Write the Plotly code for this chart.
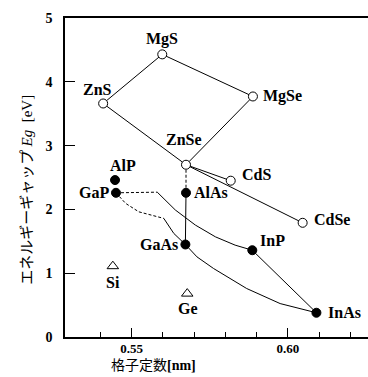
import plotly.graph_objects as go

# --- data ---
open_names = ["MgS", "ZnS", "MgSe", "ZnSe", "CdS", "CdSe"]
open_a = [0.5598, 0.5409, 0.5888, 0.5674, 0.5817, 0.6047]
open_eg = [4.43, 3.66, 3.77, 2.70, 2.45, 1.79]

filled_names = ["AlP", "GaP", "AlAs", "GaAs", "InP", "InAs"]
filled_a = [0.5447, 0.5450, 0.5674, 0.5672, 0.5886, 0.6091]
filled_eg = [2.46, 2.26, 2.26, 1.45, 1.36, 0.38]

tri_names = ["Si", "Ge"]
tri_a = [0.5440, 0.5678]
tri_eg = [1.11, 0.68]

# solid straight connections (pairs of compound names)
solid_pairs = [("MgS", "ZnS"), ("MgS", "MgSe"), ("ZnS", "ZnSe"), ("MgSe", "ZnSe"),
               ("ZnSe", "CdS"), ("ZnSe", "CdSe"), ("AlAs", "GaAs"), ("InP", "InAs")]
dashed_pairs = [("ZnSe", "AlAs")]

# curved alloy paths (GaP-InP, GaP-GaAs, GaAs-InAs)
gapinp_dash_a = [0.5450, 0.5582]
gapinp_dash_eg = [2.26, 2.27]
gapinp_solid_a = [0.5582, 0.5640, 0.5704, 0.5768, 0.5831, 0.5886]
gapinp_solid_eg = [2.27, 1.99, 1.754, 1.57, 1.44, 1.36]

gapgaas_dash_a = [0.5450, 0.5481, 0.5523, 0.5603]
gapgaas_dash_eg = [2.26, 2.094, 1.962, 1.859]
gapgaas_solid_a = [0.5603, 0.5635, 0.5672]
gapgaas_solid_eg = [1.859, 1.623, 1.45]

gaasinas_a = [0.5672, 0.5709, 0.5762, 0.5868, 0.5975, 0.6038, 0.6091]
gaasinas_eg = [1.45, 1.256, 1.074, 0.760, 0.524, 0.446, 0.38]

x_ticks = [0.55, 0.60]
x_tick_text = ["0.55", "0.60"]
x_minor_ticks = [0.54, 0.56, 0.57, 0.58, 0.59, 0.61, 0.62]
y_ticks = [0, 1, 2, 3, 4, 5]

SERIF = "Liberation Serif"
CLEAR = "rgba(0,0,0,0)"

pos = {}
for n, a, e in zip(open_names, open_a, open_eg):
    pos[n] = (a, e)
for n, a, e in zip(filled_names, filled_a, filled_eg):
    pos[n] = (a, e)
for n, a, e in zip(tri_names, tri_a, tri_eg):
    pos[n] = (a, e)

fig = go.Figure()
LINE = dict(color="black", width=1)
DASH = dict(color="black", width=1, dash="3px,2px")

def add_line(xs, ys, line):
    fig.add_trace(go.Scatter(x=xs, y=ys, mode="lines", line=line, hoverinfo="skip", showlegend=False))

for p, q in solid_pairs:
    add_line([pos[p][0], pos[q][0]], [pos[p][1], pos[q][1]], LINE)
for p, q in dashed_pairs:
    add_line([pos[p][0], pos[q][0]], [pos[p][1], pos[q][1]], DASH)

add_line(gapinp_dash_a, gapinp_dash_eg, DASH)
add_line(gapinp_solid_a, gapinp_solid_eg, LINE)
add_line(gapgaas_dash_a, gapgaas_dash_eg, DASH)
add_line(gapgaas_solid_a, gapgaas_solid_eg, LINE)
add_line(gaasinas_a, gaasinas_eg, LINE)

fig.add_trace(go.Scatter(x=open_a, y=open_eg, mode="markers",
                         marker=dict(symbol="circle", size=9, color="white",
                                     line=dict(color="black", width=1)), showlegend=False))
fig.add_trace(go.Scatter(x=filled_a, y=filled_eg, mode="markers",
                         marker=dict(symbol="circle", size=9, color="black",
                                     line=dict(color="black", width=1)), showlegend=False))
fig.add_trace(go.Scatter(x=tri_a, y=tri_eg, mode="markers",
                         marker=dict(symbol="triangle-up-open", size=10, color="black",
                                     line=dict(color="black", width=1)), showlegend=False))

# label placement (pixel offsets)
label_style = {
    "MgS": (0, 15, "center"), "ZnS": (-6, 14, "center"), "MgSe": (8, 0, "left"),
    "ZnSe": (-2, 25, "center"), "CdS": (9, 6, "left"), "CdSe": (9, 3, "left"),
    "AlP": (8, 15, "center"), "GaP": (-5, 0, "right"), "AlAs": (6, 0, "left"),
    "GaAs": (-5, 0, "right"), "InP": (20, 10, "center"), "InAs": (10, 0, "left"),
    "Si": (0, -16, "center"), "Ge": (1, -15, "center"),
}

LBL = dict(family=SERIF, size=16, color="black")
for n, (dx, dy, anc) in label_style.items():
    a, e = pos[n]
    fig.add_annotation(x=a, y=e, text="<b>%s</b>" % n, showarrow=False,
                       xshift=dx, yshift=dy, xanchor=anc, yanchor="middle", font=LBL)

# axis titles
fig.add_annotation(xref="paper", yref="paper", x=-0.13, y=0.46, textangle=-90,
                   text='エネルギーギャップ <span style="font-family:Liberation Serif"><i>Eg</i>  [eV]</span>',
                   showarrow=False, xanchor="center", yanchor="middle",
                   font=dict(family="Noto Sans CJK JP", size=15, color="black"))
fig.add_annotation(xref="paper", yref="paper", x=0.293, y=-0.086,
                   text='格子定数<span style="font-family:Liberation Serif"><b>[nm]</b></span>',
                   showarrow=False, xanchor="center", yanchor="middle",
                   font=dict(family="Noto Sans CJK JP", size=14, color="black"))

TICKFONT = dict(family=SERIF, size=13, color="black")
fig.update_xaxes(range=[0.5287, 0.6256], showline=True, linecolor="black", linewidth=1.5,
                 mirror=True, ticks="inside", ticklen=9, tickwidth=1, tickcolor="black",
                 tickvals=x_ticks, ticktext=["<b>%s</b>" % t for t in x_tick_text],
                 tickfont=TICKFONT, showgrid=False, gridcolor=CLEAR, zeroline=False,
                 ticklabelstandoff=-1,
                 minor=dict(tickvals=x_minor_ticks, ticks="inside", ticklen=5,
                            tickcolor="black", tickwidth=1, showgrid=False, gridcolor=CLEAR))
fig.update_yaxes(range=[0, 5], showline=True, linecolor="black", linewidth=1.5,
                 ticks="inside", ticklen=10, tickwidth=1, tickcolor="black",
                 tickvals=y_ticks, ticktext=["<b>%d</b>" % v for v in y_ticks],
                 tickfont=dict(family=SERIF, size=14, color="black"),
                 showgrid=False, gridcolor=CLEAR, zeroline=False,
                 ticklabelstandoff=8)

fig.update_layout(width=368, height=377, margin=dict(l=65, r=0, t=18, b=40),
                  plot_bgcolor="white", paper_bgcolor="white", showlegend=False)

fig.write_html("out.html", config={"displayModeBar": False},
               post_script="document.body.style.margin='0';document.body.style.overflow='hidden';")
